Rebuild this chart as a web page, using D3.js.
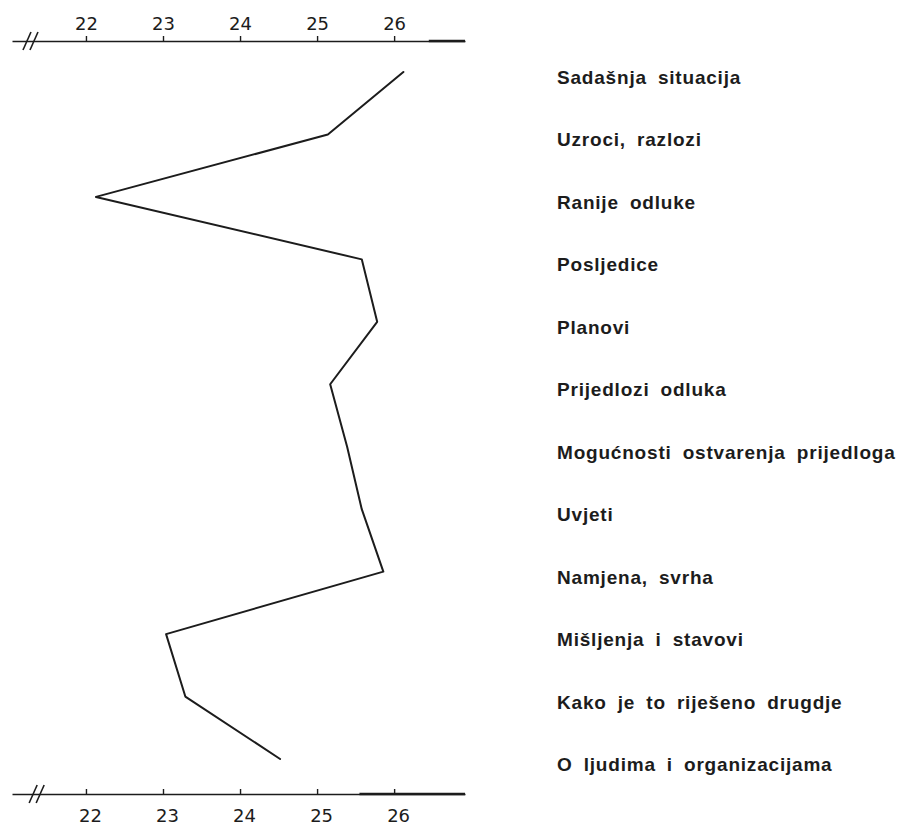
<!DOCTYPE html>
<html>
<head>
<meta charset="utf-8">
<script src="https://cdn.jsdelivr.net/npm/d3@7"></script>
<style>
  html, body { margin: 0; padding: 0; background: #ffffff; }
  svg { display: block; }
</style>
</head>
<body>
<div id="chart"></div>
<script>
// ---- data ----
const categories = [
  "Sadašnja situacija",
  "Uzroci, razlozi",
  "Ranije odluke",
  "Posljedice",
  "Planovi",
  "Prijedlozi odluka",
  "Mogućnosti ostvarenja prijedloga",
  "Uvjeti",
  "Namjena, svrha",
  "Mišljenja i stavovi",
  "Kako je to riješeno drugdje",
  "O ljudima i organizacijama"
];
const values = [26.12, 25.14, 22.13, 25.58, 25.78, 25.17, 25.39, 25.58, 25.86, 23.04, 23.29, 24.52];
const tickValues = [22, 23, 24, 25, 26];
const tickLabels = ["22", "23", "24", "25", "26"];

// ---- layout ----
const W = 914, H = 828;
const ink = "#1c1c1c";

const svg = d3.select("#chart").append("svg")
  .attr("width", W).attr("height", H)
  .style("background", "#ffffff");

const x = d3.scaleLinear().domain([21.04, 26.92]).range([12, 465]);
const y = d3.scalePoint().domain(categories).range([72, 759]);

const topY = 41, botY = 794;

// top axis
const axTop = d3.axisTop(x).tickValues(tickValues)
  .tickFormat((d, i) => tickLabels[i])
  .tickSizeInner(5).tickSizeOuter(0).tickPadding(6);
const gTop = svg.append("g").attr("transform", `translate(0,${topY})`).call(axTop);

// bottom axis (ticks pointing up, labels below)
const axBot = d3.axisBottom(x).tickValues(tickValues)
  .tickFormat((d, i) => tickLabels[i])
  .tickSizeInner(-5).tickSizeOuter(0).tickPadding(15);
const gBot = svg.append("g").attr("transform", `translate(0,${botY})`).call(axBot);

[gTop, gBot].forEach(g => {
  g.select(".domain").attr("stroke", ink).attr("stroke-width", 1.6);
  g.selectAll(".tick line").attr("stroke", ink).attr("stroke-width", 1.4);
  g.selectAll(".tick text")
    .attr("fill", ink)
    .style("font-family", "'DejaVu Sans', sans-serif")
    .style("font-size", "18px");
});
gBot.selectAll(".tick text").attr("dx", 4);

// thicker right ends of the hand-drawn axes
svg.append("line").attr("x1", x(26.45)).attr("x2", x(26.92))
  .attr("y1", topY).attr("y2", topY).attr("stroke", ink).attr("stroke-width", 2.6);
svg.append("line").attr("x1", x(25.55)).attr("x2", x(26.92))
  .attr("y1", botY).attr("y2", botY).attr("stroke", ink).attr("stroke-width", 2.6);

// axis break marks "//"
function breakMark(cx, cy) {
  const g = svg.append("g").attr("stroke", ink).attr("stroke-width", 1.6);
  [-3.5, 3.5].forEach(o => {
    g.append("line")
      .attr("x1", cx + o - 4).attr("y1", cy + 9)
      .attr("x2", cx + o + 4).attr("y2", cy - 9);
  });
}
breakMark(x(21.28), topY);
breakMark(x(21.36), botY);

// the profile line
const line = d3.line()
  .x(d => x(d.v))
  .y(d => y(d.c));
const pts = categories.map((c, i) => ({ c, v: values[i] }));
svg.append("path").datum(pts)
  .attr("d", line)
  .attr("fill", "none")
  .attr("stroke", ink)
  .attr("stroke-width", 2)
  .attr("stroke-linejoin", "round")
  .attr("stroke-linecap", "round");

// category labels on the right
svg.append("g").selectAll("text").data(categories).join("text")
  .attr("x", 557)
  .attr("y", d => y(d) + 12)
  .attr("fill", ink)
  .style("font-family", "'Liberation Sans', Arial, sans-serif")
  .style("font-weight", "bold")
  .style("font-size", "19px")
  .style("letter-spacing", "0.8px")
  .style("word-spacing", "5px")
  .text(d => d);
</script>
</body>
</html>
